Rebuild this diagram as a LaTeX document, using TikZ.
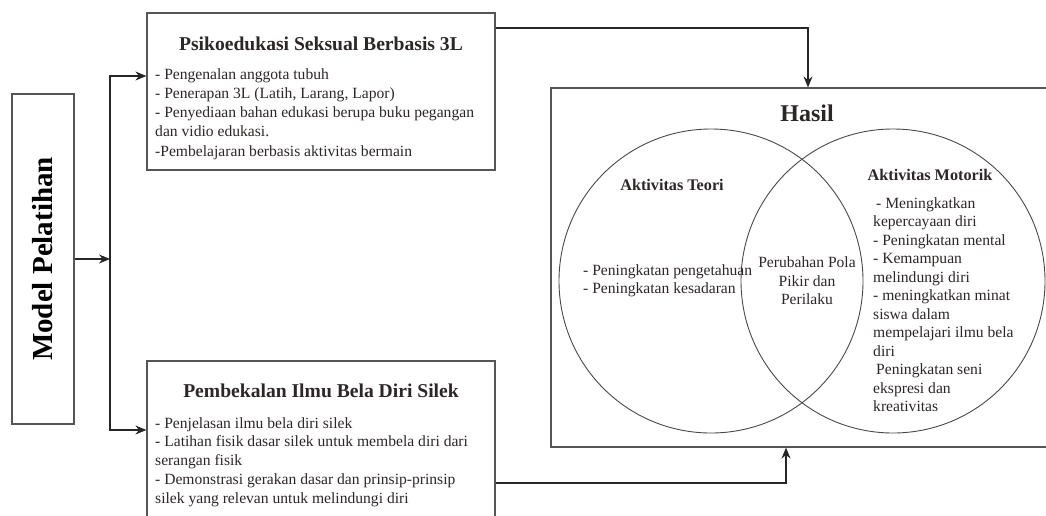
\documentclass[tikz,border=0pt]{standalone}
\usepackage{fontspec}
\setmainfont{Liberation Serif}
\usetikzlibrary{arrows.meta,positioning}
\definecolor{inkc}{RGB}{45,38,38}
\definecolor{linec}{RGB}{85,85,85}

\begin{document}
\begin{tikzpicture}
    [x=1pt, y=-1pt, font=\fontsize{15.6}{18.5}\selectfont, text=inkc,
    box/.style={draw=linec, line width=1.2pt, inner sep=0pt},
    ring/.style={draw=inkc!85, line width=0.9pt, circle, minimum size=304pt, inner sep=0pt},
    head/.style={font=\bfseries\fontsize{19.6}{22}\selectfont},
    sub/.style={font=\bfseries\fontsize{16.2}{19}\selectfont},
    list/.style={align=left, inner sep=0pt, anchor=north west},
    conn/.style={draw=black!85, line width=1.1pt, -{Stealth[length=11pt,width=9pt]}}]

\useasboundingbox (0,0) rectangle (1046,515);
\clip (0,0) rectangle (1046,515);

\node[box, minimum width=330pt, minimum height=62pt, rotate=90, text=black] (model) at (43,259)
    {\bfseries\fontsize{29}{32}\selectfont Model Pelatihan};

\node[box, minimum width=348pt, minimum height=157pt] (psiko) at (321,91.5) {};
\node[head] (psikohead) at (321,44) {Psikoedukasi Seksual Berbasis 3L};
\node[list, font=\fontsize{15.6}{19.3}\selectfont] (psikolist) at (155,68) {- Pengenalan anggota tubuh\\- Penerapan 3L (Latih, Larang, Lapor)\\- Penyediaan bahan edukasi berupa buku pegangan\\dan vidio edukasi.\\-Pembelajaran berbasis aktivitas bermain};

\node[box, minimum width=348pt, minimum height=170pt] (pembek) at (321,446) {};
\node[head] (pembekhead) at (321,391) {Pembekalan Ilmu Bela Diri Silek};
\node[list, font=\fontsize{15.6}{18.8}\selectfont] (pembeklist) at (155,417) {- Penjelasan ilmu bela diri silek\\- Latihan fisik dasar silek untuk membela diri dari\\serangan fisik\\- Demonstrasi gerakan dasar dan prinsip-prinsip\\silek yang relevan untuk melindungi diri};

\node[box, minimum width=510pt, minimum height=359pt] (hasil) at (806,267.5) {};
\node[font=\bfseries\fontsize{24}{28}\selectfont] (hasilhead) at (807,113) {Hasil};
\node[ring] (teori) at (711,281) {};
\node[ring] (motorik) at (893,281) {};
\node[sub] (teorihead) at (672,185) {Aktivitas Teori};
\node[sub] (motorikhead) at (930,175) {Aktivitas Motorik};
\node[list] (teorilist) at (583,264) {- Peningkatan pengetahuan\\- Peningkatan kesadaran};
\node[align=center] (irisan) at (807,281) {Perubahan Pola\\Pikir dan\\Perilaku};
\node[list] (motoriklist) at (873,197) {\hspace*{3pt}- Meningkatkan\\kepercayaan diri\\- Peningkatan mental\\- Kemampuan\\melindungi diri\\- meningkatkan minat\\siswa dalam\\mempelajari ilmu bela\\diri\\\hspace*{3pt}Peningkatan seni\\ekspresi dan\\kreativitas};

\coordinate (split) at (110,259);
\draw[conn] (model) -- (split);
\draw[conn] (split) |- ([yshift=15.5pt]psiko.west);
\draw[conn] (split) |- ([yshift=16pt]pembek.west);
\draw[conn] ([yshift=63.5pt]psiko.east) -| ([xshift=2pt]hasil.north);
\draw[conn] ([yshift=-37pt]pembek.east) -| ([xshift=-20pt]hasil.south);
\end{tikzpicture}
\end{document}
